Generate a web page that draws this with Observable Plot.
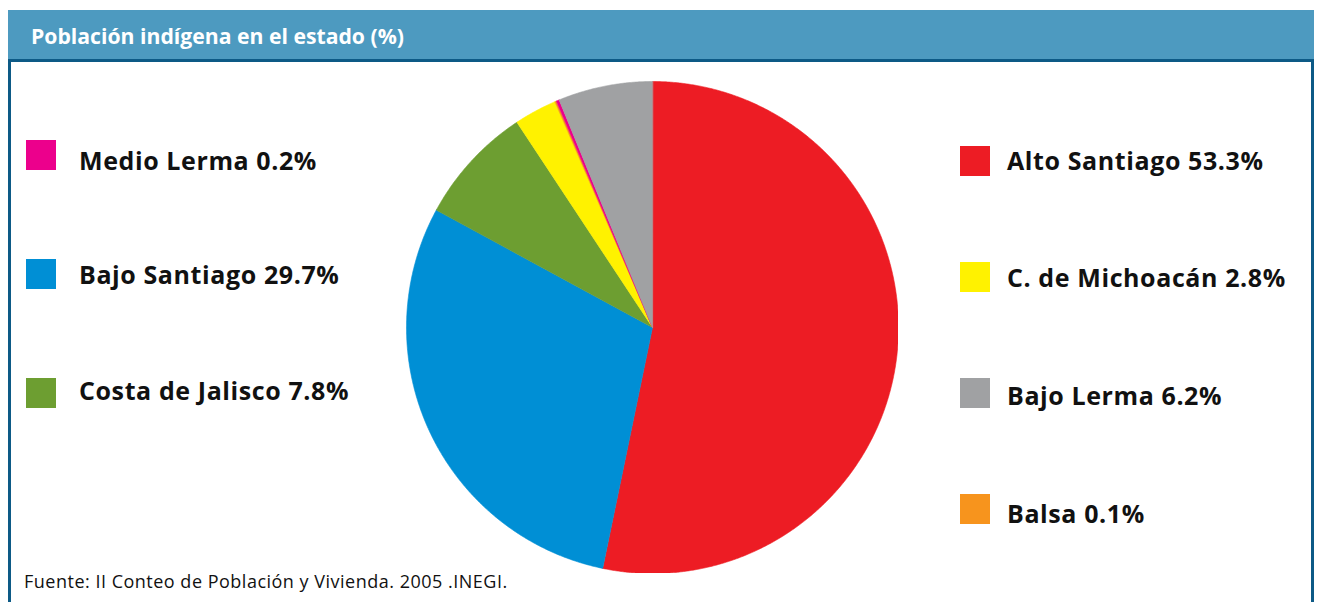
<!DOCTYPE html>
<html>
<head>
<meta charset="utf-8">
<script src="https://cdn.jsdelivr.net/npm/d3@7"></script>
<script src="https://cdn.jsdelivr.net/npm/@observablehq/plot@0.6"></script>
<style>
  html, body { margin: 0; padding: 0; background: #fff; }
  #page { position: relative; width: 1319px; height: 602px; overflow: hidden; font-family: "Open Sans", sans-serif; }
  #header { position: absolute; left: 8px; top: 10px; width: 1306px; height: 49px; background: #4d9ac0; }
  #headerLine { position: absolute; left: 8px; top: 59px; width: 1306px; height: 3px; background: #0d5a86; }
  #borderL { position: absolute; left: 8px; top: 59px; width: 3px; height: 560px; background: #0d5a86; }
  #borderR { position: absolute; left: 1311px; top: 59px; width: 3px; height: 560px; background: #0d5a86; }
  #pie { position: absolute; left: 406px; top: 81px; }
  #overlay { position: absolute; left: 0; top: 0; }
</style>
</head>
<body>
<div id="page">
  <div id="header"></div>
  <div id="headerLine"></div>
  <div id="borderL"></div>
  <div id="borderR"></div>
  <div id="pie"></div>
  <svg id="overlay" width="1319" height="602"></svg>
</div>
<script>
// ---- data ----
const title = "Población indígena en el estado (%)";
const caption = "Fuente: II Conteo de Población y Vivienda. 2005 .INEGI.";
// pie order, clockwise from 12 o'clock
const regions = ["Alto Santiago", "Bajo Santiago", "Costa de Jalisco", "C. de Michoacán", "Balsa", "Medio Lerma", "Bajo Lerma"];
const shares  = [53.3, 29.7, 7.8, 2.8, 0.1, 0.2, 6.2];
const colors  = ["#ed1c24", "#008fd5", "#6d9e31", "#fff200", "#f7941d", "#ec008c", "#a0a1a3"];
// legend columns
const legendLeft  = ["Medio Lerma", "Bajo Santiago", "Costa de Jalisco"];
const legendRight = ["Alto Santiago", "C. de Michoacán", "Bajo Lerma", "Balsa"];

// ---- layout (pixels) ----
const R = 246;
const leftSquareTops = [140, 259, 378], leftBaselines = [170, 284, 400];
const rightSquareTops = [146, 262, 378, 494], rightBaselines = [170, 287, 405, 523];

// ---- pie geometry via d3.pie ----
const arcs = d3.pie().sort(null).value(d => d)(shares);
const pts = [];
arcs.forEach((a, i) => {
  const name = regions[i];
  pts.push({name, x: 0, y: 0});
  const n = Math.max(2, Math.ceil((a.endAngle - a.startAngle) / 0.005));
  for (let k = 0; k <= n; k++) {
    const t = a.startAngle + (a.endAngle - a.startAngle) * k / n;
    pts.push({name, x: Math.sin(t), y: Math.cos(t)});
  }
});

const pie = Plot.plot({
  width: 2 * R, height: 2 * R,
  margin: 0,
  x: {domain: [-1, 1], axis: null},
  y: {domain: [-1, 1], axis: null},
  color: {domain: regions, range: colors},
  marks: [
    Plot.line(pts, {x: "x", y: "y", z: "name", fill: "name", stroke: "name", strokeWidth: 0.6, curve: "linear-closed"})
  ]
});
document.getElementById("pie").appendChild(pie);

// ---- text & legend overlay ----
const svg = d3.select("#overlay");
const FONT = "'Open Sans', sans-serif";
svg.append("text").attr("x", 31).attr("y", 44)
  .attr("fill", "#fff").attr("font-weight", 700).attr("font-size", 21.2)
  .attr("font-family", FONT).text(title);

const colorOf = name => colors[regions.indexOf(name)];
const labelOf = name => `${name} ${shares[regions.indexOf(name)].toFixed(1)}%`;

function legend(names, sqX, txtX, tops, bases) {
  names.forEach((name, i) => {
    svg.append("rect").attr("x", sqX).attr("y", tops[i]).attr("width", 30).attr("height", 30).attr("fill", colorOf(name));
    svg.append("text").attr("x", txtX).attr("y", bases[i])
      .attr("fill", "#111").attr("font-weight", 700).attr("font-size", 25)
      .attr("letter-spacing", 0.6)
      .attr("font-family", FONT).text(labelOf(name));
  });
}
legend(legendLeft, 26, 79, leftSquareTops, leftBaselines);
legend(legendRight, 960, 1007, rightSquareTops, rightBaselines);

svg.append("text").attr("x", 24).attr("y", 588)
  .attr("fill", "#111").attr("font-size", 18).attr("letter-spacing", 0.5)
  .attr("font-family", FONT).text(caption);
</script>
</body>
</html>
